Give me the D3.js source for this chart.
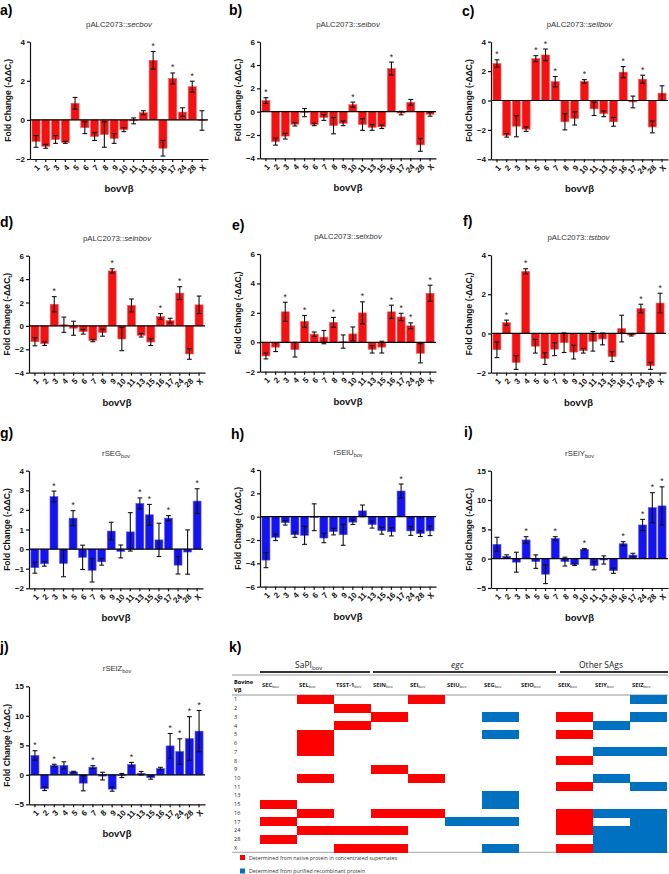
<!DOCTYPE html>
<html><head><meta charset="utf-8">
<script src="https://cdn.jsdelivr.net/npm/d3@7"></script>
<style>
body{margin:0;background:#fff;}
svg{font-family:"Liberation Sans",Arial,sans-serif;}
</style></head><body>
<svg id="chart" width="669" height="874"></svg>
<script>
// ---------- DATA ----------
const categories = ["1","2","3","4","5","6","7","8","9","10","11","13","15","16","17","24","28","X"];

// a) pALC2073::secbov
const secVal = [-1.1,-1.35,-1.0,-1.15,0.85,-0.4,-0.85,-0.75,-0.95,-0.5,-0.05,0.37,3.05,-1.45,2.12,0.4,1.7,-0.03];
const secErr = [0.3,0.1,0.2,0.05,0.3,0.3,0.2,0.65,0.25,0.1,0.15,0.1,0.45,0.4,0.28,0.22,0.28,0.5];
const secSig = ["15","17","28"];
// b) pALC2073::seibov
const seiVal = [0.95,-2.57,-2.1,-1.08,-0.08,-1.1,-0.5,-1.2,-1.0,0.6,-1.1,-1.35,-1.3,3.7,-0.12,0.8,-2.85,-0.22];
const seiErr = [0.25,0.3,0.25,0.15,0.35,0.1,0.25,0.7,0.2,0.22,0.5,0.25,0.15,0.55,0.15,0.25,0.55,0.17];
const seiSig = ["1","10","16"];
// c) pALC2073::sellbov
const sellVal = [2.52,-2.37,-1.75,-1.95,2.85,3.1,1.28,-1.45,-1.22,1.3,-0.57,-0.9,-1.45,1.93,-0.1,1.45,-1.8,0.5];
const sellErr = [0.25,0.12,0.72,0.15,0.2,0.4,0.35,0.55,0.45,0.12,0.45,0.2,0.3,0.38,0.4,0.27,0.4,0.5];
const sellSig = ["1","5","6","7","10","16","24"];
// d) pALC2073::selnbov
const selnVal = [-1.35,-1.52,1.85,0.1,-0.2,-0.5,-1.25,-0.58,4.7,-1.12,1.75,-0.8,-1.38,0.8,0.45,2.8,-2.4,1.8];
const selnErr = [0.35,0.15,0.65,0.65,0.6,0.2,0.1,0.3,0.18,1.0,0.55,0.15,0.3,0.25,0.2,0.55,0.45,0.75];
const selnSig = ["3","9","16","24"];
// e) pALC2073::selxbov
const selxVal = [-0.93,-0.33,2.07,-0.5,1.42,0.55,0.35,1.36,0.05,0.57,2.0,-0.48,-0.33,2.07,1.72,1.12,-0.75,3.33];
const selxErr = [0.2,0.3,0.65,0.5,0.4,0.15,0.45,0.33,0.45,0.47,0.75,0.25,0.4,0.45,0.25,0.2,0.65,0.55];
const selxSig = ["3","5","8","11","16","17","24","X"];
// f) pALC2073::tstbov
const tstVal = [-0.83,0.55,-1.48,3.17,-0.65,-1.28,-0.8,-0.47,-0.95,-0.88,-0.4,-0.28,-1.18,0.25,-0.08,1.27,-1.65,1.55];
const tstErr = [0.4,0.13,0.35,0.13,0.35,0.3,0.33,0.5,0.35,0.12,0.5,0.3,0.25,0.68,0.05,0.22,0.18,0.5];
const tstSig = ["2","4","24","X"];
// g) rSEGbov
const segVal = [-0.95,-0.75,2.68,-0.73,1.58,-0.42,-1.08,-0.65,0.92,-0.12,0.88,2.33,1.75,0.47,1.58,-0.82,-0.15,2.45];
const segErr = [0.28,0.12,0.28,0.68,0.38,0.62,0.6,0.17,0.45,0.33,0.98,0.28,0.53,0.85,0.13,0.45,1.13,0.63];
const segSig = ["3","5","13","15","17","X"];
// h) rSElUbov
const seluVal = [-3.72,-1.77,-0.52,-1.55,-1.6,-0.05,-1.83,-1.28,-1.55,-0.47,0.5,-0.68,-1.2,-1.3,2.2,-1.22,-1.45,-1.22];
const seluErr = [0.65,0.28,0.2,0.22,0.77,1.15,0.4,0.28,0.9,0.2,0.5,0.3,0.3,0.35,0.6,0.38,0.25,0.4];
const seluSig = ["17"];
// i) rSElYbov
const selyVal = [2.45,0.4,-0.6,3.2,-0.5,-2.65,3.45,-0.5,-1.02,1.6,-1.2,-0.22,-2.05,2.55,0.62,5.75,8.7,9.0];
const selyErr = [1.2,0.25,1.7,0.55,1.15,1.6,0.3,0.75,0.15,0.12,0.7,0.7,0.45,0.35,0.3,0.95,2.55,3.25];
const selySig = ["4","7","10","16","24","28","X"];
// j) rSElZbov
const selzVal = [3.28,-2.37,1.58,1.6,0.5,-1.42,1.3,-0.22,-2.43,-0.12,1.75,0.27,-0.5,1.07,4.9,3.95,6.15,7.4];
const selzErr = [0.8,0.3,0.2,0.6,0.1,1.3,0.25,0.65,0.35,0.35,0.35,0.3,0.25,0.2,2.1,2.15,3.7,3.5];
const selzSig = ["1","3","7","11","17","24","28","X"];

// k) table
const tableColumns = ["SEC","SEL","TSST-1","SElN","SEI","SElU","SEG","SElO","SElX","SElY","SElZ"];
const tableGroups = ["SaPI","egc","Other SAgs"];
const nativeRows = [
  ["15","17","28"],
  ["1","5","6","7","10","16","24"],
  ["2","4","24","X"],
  ["3","9","16","24","X"],
  ["1","10","16"],
  [], [], [],
  ["3","5","8","11","16","17","24","X"],
  [], []
];
const recombinantRows = [
  [], [], [], [], [],
  ["17"],
  ["3","5","13","15","17","X"],
  [],
  [],
  ["4","7","10","16","24","28","X"],
  ["1","3","7","11","16","17","24","28","X"]
];
const legendLabels = ["Determined from native protein in concentrated supernates","Determined from purified recombinant protein"];

// ---------- LAYOUT ----------
const RED = "#f21212", BLUE = "#1414ee";
const panels = [
  {lab:"a)", lx:0, ly:15, vals:secVal, errs:secErr, sig:secSig, x0:30, x1:208, top:41.7, bot:159, dom:[-2,4], step:2, color:RED, pre:"pALC2073::", it:"secbov"},
  {lab:"b)", lx:229, ly:15, vals:seiVal, errs:seiErr, sig:seiSig, x0:260, x1:436, top:41.7, bot:158.3, dom:[-4,6], step:2, color:RED, pre:"pALC2073::", it:"seibov"},
  {lab:"c)", lx:462, ly:16, vals:sellVal, errs:sellErr, sig:sellSig, x0:491, x1:668, top:41.7, bot:159.3, dom:[-4,4], step:2, color:RED, pre:"pALC2073::", it:"sellbov"},
  {lab:"d)", lx:0, ly:227, vals:selnVal, errs:selnErr, sig:selnSig, x0:29, x1:205, top:255.7, bot:372.7, dom:[-4,6], step:2, color:RED, pre:"pALC2073::", it:"selnbov"},
  {lab:"e)", lx:232, ly:230, vals:selxVal, errs:selxErr, sig:selxSig, x0:260, x1:436, top:254, bot:371.7, dom:[-2,6], step:2, color:RED, pre:"pALC2073::", it:"selxbov"},
  {lab:"f)", lx:463, ly:226, vals:tstVal, errs:tstErr, sig:tstSig, x0:491, x1:666, top:255, bot:372.7, dom:[-2,4], step:2, color:RED, pre:"pALC2073::", it:"tstbov"},
  {lab:"g)", lx:0, ly:438, vals:segVal, errs:segErr, sig:segSig, x0:29, x1:203, top:470.7, bot:588.3, dom:[-2,4], step:1, color:BLUE, pre:"rSEG", sub:"bov"},
  {lab:"h)", lx:231, ly:439, vals:seluVal, errs:seluErr, sig:seluSig, x0:260, x1:436, top:470, bot:586.7, dom:[-6,4], step:2, color:BLUE, pre:"rSElU", sub:"bov"},
  {lab:"i)", lx:464, ly:437, vals:selyVal, errs:selyErr, sig:selySig, x0:491, x1:668, top:470.7, bot:588, dom:[-5,15], step:5, color:BLUE, pre:"rSElY", sub:"bov"},
  {lab:"j)", lx:0, ly:652, vals:selzVal, errs:selzErr, sig:selzSig, x0:29, x1:205, top:686.3, bot:804.3, dom:[-5,15], step:5, color:BLUE, pre:"rSElZ", sub:"bov"}
];

const svg = d3.select("#chart");

function drawPanel(p){
  const g = svg.append("g");
  const x = d3.scaleBand().domain(categories).range([p.x0, p.x1]).paddingInner(0.17).paddingOuter(0.2);
  const y = d3.scaleLinear().domain(p.dom).range([p.bot, p.top]);
  const rows = categories.map((c,i)=>({c, v:p.vals[i], e:p.errs[i], s:p.sig.includes(c)}));

  g.selectAll("rect.bar").data(rows).join("rect").attr("class","bar")
    .attr("x", d=>x(d.c)).attr("width", x.bandwidth())
    .attr("y", d=>y(Math.max(0,d.v))).attr("height", d=>Math.max(0.8, Math.abs(y(d.v)-y(0))))
    .attr("fill", p.color).attr("stroke", p.color==RED?"#ff5a5a":"#5a5aff").attr("stroke-width",0.6);

  const cx = d=>x(d.c)+x.bandwidth()/2;
  const cap = 2.4;
  const eg = g.append("g").attr("stroke","#111").attr("stroke-width",1.1);
  eg.selectAll("line.v").data(rows).join("line")
    .attr("x1",cx).attr("x2",cx).attr("y1",d=>y(d.v+d.e)).attr("y2",d=>y(d.v-d.e));
  eg.selectAll("line.t").data(rows).join("line")
    .attr("x1",d=>cx(d)-cap).attr("x2",d=>cx(d)+cap).attr("y1",d=>y(d.v+d.e)).attr("y2",d=>y(d.v+d.e));
  eg.selectAll("line.b").data(rows).join("line")
    .attr("x1",d=>cx(d)-cap).attr("x2",d=>cx(d)+cap).attr("y1",d=>y(d.v-d.e)).attr("y2",d=>y(d.v-d.e));

  g.selectAll("text.star").data(rows.filter(d=>d.s)).join("text")
    .attr("x",cx).attr("y",d=>y(Math.max(0,d.v+d.e))-2.5)
    .attr("text-anchor","middle").attr("font-size",8.5).attr("fill","#222").text("*");

  // zero line
  g.append("line").attr("x1",p.x0).attr("x2",p.x1).attr("y1",y(0)).attr("y2",y(0))
    .attr("stroke","#000").attr("stroke-width",1.2);

  const ticks = d3.range(p.dom[0], p.dom[1]+0.001, p.step);
  const ya = g.append("g").attr("transform",`translate(${p.x0},0)`)
    .call(d3.axisLeft(y).tickValues(ticks).tickSize(3).tickPadding(2).tickSizeOuter(0).tickFormat(d3.format("d")));
  ya.selectAll("text").attr("font-size",8).attr("font-weight","bold").attr("fill","#111");
  ya.selectAll("line,path").attr("stroke","#111").attr("stroke-width",1.2);

  const xa = g.append("g").attr("transform",`translate(0,${p.bot})`)
    .call(d3.axisBottom(x).tickSize(3).tickSizeOuter(0));
  xa.selectAll("line,path").attr("stroke","#111").attr("stroke-width",1.2);
  xa.selectAll("text").attr("font-size",8).attr("font-weight","bold").attr("fill","#111")
    .attr("x",0).attr("y",0).attr("dy","0.35em")
    .attr("transform","translate(2.5,7) rotate(-45)").style("text-anchor","end");

  // axis titles
  const mx = (p.x0+p.x1)/2;
  g.append("text").attr("x",mx).attr("y",p.bot+33).attr("text-anchor","middle")
    .attr("font-size",9.5).attr("font-weight","bold").attr("fill","#111").text("bovVβ");
  const yl = g.append("text").attr("transform",`translate(${p.x0-19},${(p.top+p.bot)/2}) rotate(-90)`)
    .attr("text-anchor","middle").attr("font-size",8.5).attr("font-weight","bold").attr("fill","#111");
  yl.append("tspan").text("Fold Change (-ΔΔC");
  yl.append("tspan").attr("font-size",6).attr("dy",2).text("t");
  yl.append("tspan").attr("dy",-2).text(")");

  // chart title
  const t = g.append("text").attr("x",mx).attr("y",p.top-15).attr("text-anchor","middle")
    .attr("font-size",7.8).attr("fill","#333");
  t.append("tspan").text(p.pre);
  if(p.it) t.append("tspan").attr("font-style","italic").text(p.it);
  if(p.sub) t.append("tspan").attr("font-size",5.5).attr("dy",2).text(p.sub);

  svg.append("text").attr("x",p.lx).attr("y",p.ly).attr("font-size",14).attr("font-weight","bold")
    .attr("fill","#000").text(p.lab);
}
panels.forEach(drawPanel);

// ---------- TABLE k ----------
(function(){
  const g = svg.append("g").attr("font-family","'Open Sans','Liberation Sans',sans-serif");
  const tx0 = 260, colW = 37, rowTop = 695, rowBot = 852.3;
  const cx = d3.scaleBand().domain(tableColumns).range([tx0, tx0+colW*tableColumns.length]);
  const ry = d3.scaleBand().domain(categories).range([rowTop, rowBot]);

  svg.append("text").attr("x",229).attr("y",652).attr("font-size",14).attr("font-weight","bold").text("k)");

  // group headers
  const groupSpans = [[260,370],[373,556],[560,668]];
  g.selectAll("line.grp").data(groupSpans).join("line")
    .attr("x1",d=>d[0]).attr("x2",d=>d[1]).attr("y1",672).attr("y2",672)
    .attr("stroke","#333").attr("stroke-width",1.8);
  const gl = g.append("text").attr("x",295).attr("y",668).attr("font-size",8.5).attr("fill","#222");
  gl.append("tspan").text("SaPI");
  gl.append("tspan").attr("font-size",6).attr("dy",2).text("bov");
  g.append("text").attr("x",451).attr("y",668).attr("font-size",8.5).attr("font-style","italic").attr("fill","#222").text(tableGroups[1]);
  g.append("text").attr("x",579).attr("y",668).attr("font-size",8.5).attr("fill","#222").text(tableGroups[2]);

  // table lines
  [675,695,852.3].forEach((yy,i)=>{
    g.append("line").attr("x1",232).attr("x2",668).attr("y1",yy).attr("y2",yy)
      .attr("stroke",i==1?"#888":"#999").attr("stroke-width",i==0?1.2:0.9);
  });

  // header
  g.append("text").attr("x",234).attr("y",684).attr("font-size",5.6).attr("font-weight","bold").text("Bovine");
  g.append("text").attr("x",234).attr("y",692).attr("font-size",5.6).attr("font-weight","bold").text("Vβ");
  const hd = g.selectAll("text.hd").data(tableColumns).join("text")
    .attr("x",d=>cx(d)+2).attr("y",687).attr("font-size",5.8).attr("font-weight","bold").attr("fill","#222");
  hd.append("tspan").text(d=>d);
  hd.append("tspan").attr("font-size",4).attr("dy",1.2).attr("font-weight","normal").text("bov");

  // row labels
  g.selectAll("text.rl").data(categories).join("text")
    .attr("x",234).attr("y",d=>ry(d)+ry.bandwidth()/2+2).attr("font-size",5.5).attr("fill","#222").text(d=>d);

  // cells
  const cells = [];
  tableColumns.forEach((c,i)=>{
    nativeRows[i].forEach(r=>cells.push({c,r,col:"#ff0000"}));
    recombinantRows[i].forEach(r=>cells.push({c,r,col:"#0070c0"}));
  });
  g.selectAll("rect.cell").data(cells).join("rect")
    .attr("x",d=>cx(d.c)).attr("y",d=>ry(d.r)).attr("width",cx.bandwidth()).attr("height",ry.bandwidth()+0.3)
    .attr("fill",d=>d.col).attr("shape-rendering","crispEdges");

  // legend
  const lg = g.selectAll("g.lg").data(legendLabels).join("g")
    .attr("transform",(d,i)=>`translate(240,${855+i*13.5})`);
  lg.append("rect").attr("width",5).attr("height",5).attr("fill",(d,i)=>i==0?"#ff0000":"#0070c0");
  lg.append("text").attr("x",9).attr("y",4.5).attr("font-size",5.3).attr("fill","#333").text(d=>d);
})();
</script>
</body></html>
